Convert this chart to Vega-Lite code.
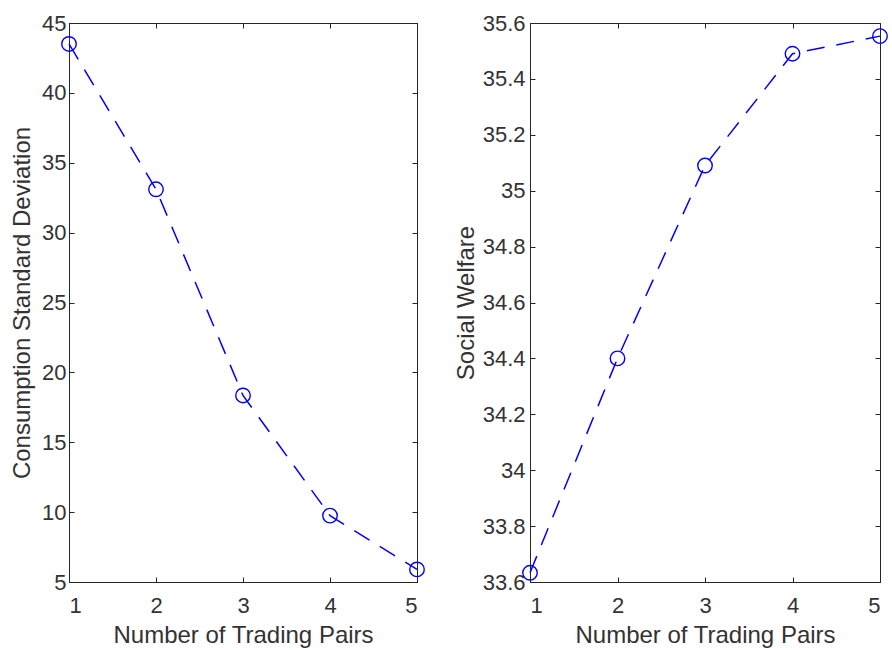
{
  "$schema": "https://vega.github.io/schema/vega-lite/v6.json",
  "background": "white",
  "padding": {"left": 10, "top": 11, "right": 6, "bottom": 3},
  "data": {"values": [
    {"x": 1, "csd": 43.5, "sw": 33.633},
    {"x": 2, "csd": 33.1, "sw": 34.40},
    {"x": 3, "csd": 18.35, "sw": 35.09},
    {"x": 4, "csd": 9.75, "sw": 35.49},
    {"x": 5, "csd": 5.9, "sw": 35.553}
  ]},
  "config": {
    "view": {"stroke": "#262626", "strokeWidth": 1},
    "font": "Liberation Sans",
    "axis": {
      "labelFont": "Liberation Sans", "titleFont": "Liberation Sans",
      "labelColor": "#333333", "titleColor": "#333333",
      "domainColor": "#262626", "tickColor": "#262626",
      "labelFontSize": 22, "titleFontSize": 24, "titleFontWeight": "normal",
      "grid": false, "tickSize": -5, "domainWidth": 1, "tickWidth": 1
    }
  },
  "spacing": 25,
  "hconcat": [
    {
      "width": 348, "height": 559,
      "layer": [
        {
          "mark": {"type": "line", "interpolate": "linear", "color": "#0000ff", "strokeDash": [18, 12], "strokeWidth": 1.5},
          "encoding": {
            "x": {"field": "x", "type": "quantitative", "scale": {"domain": [1, 5], "nice": false, "zero": false},
                  "axis": {"title": "Number of Trading Pairs", "values": [1, 2, 3, 4, 5], "format": "d", "labelPadding": 18, "titlePadding": 7}},
            "y": {"field": "csd", "type": "quantitative", "scale": {"domain": [5, 45], "nice": false, "zero": false},
                  "axis": {"title": "Consumption Standard Deviation", "values": [5, 10, 15, 20, 25, 30, 35, 40, 45], "format": "d", "labelPadding": 8, "titlePadding": 7}}
          }
        },
        {
          "mark": {"type": "point", "shape": "circle", "size": 210, "color": "#0000ff", "strokeWidth": 1.4, "filled": false, "opacity": 1},
          "encoding": {
            "x": {"field": "x", "type": "quantitative", "axis": {"orient": "top", "labels": false, "title": null, "values": [1, 2, 3, 4, 5]}},
            "y": {"field": "csd", "type": "quantitative", "axis": {"orient": "right", "labels": false, "title": null, "values": [5, 10, 15, 20, 25, 30, 35, 40, 45]}}
          }
        }
      ],
      "resolve": {"axis": {"x": "independent", "y": "independent"}}
    },
    {
      "width": 350, "height": 559,
      "layer": [
        {
          "mark": {"type": "line", "interpolate": "linear", "color": "#0000ff", "strokeDash": [18, 12], "strokeWidth": 1.5},
          "encoding": {
            "x": {"field": "x", "type": "quantitative", "scale": {"domain": [1, 5], "nice": false, "zero": false},
                  "axis": {"title": "Number of Trading Pairs", "values": [1, 2, 3, 4, 5], "format": "d", "labelPadding": 18, "titlePadding": 7}},
            "y": {"field": "sw", "type": "quantitative", "scale": {"domain": [33.6, 35.6], "nice": false, "zero": false},
                  "axis": {"title": "Social Welfare", "values": [33.6, 33.8, 34, 34.2, 34.4, 34.6, 34.8, 35, 35.2, 35.4, 35.6], "format": ".1~f", "labelPadding": 10, "titlePadding": 4}}
          }
        },
        {
          "mark": {"type": "point", "shape": "circle", "size": 210, "color": "#0000ff", "strokeWidth": 1.4, "filled": false, "opacity": 1},
          "encoding": {
            "x": {"field": "x", "type": "quantitative", "axis": {"orient": "top", "labels": false, "title": null, "values": [1, 2, 3, 4, 5]}},
            "y": {"field": "sw", "type": "quantitative", "axis": {"orient": "right", "labels": false, "title": null, "values": [33.6, 33.8, 34, 34.2, 34.4, 34.6, 34.8, 35, 35.2, 35.4, 35.6]}}
          }
        }
      ],
      "resolve": {"axis": {"x": "independent", "y": "independent"}}
    }
  ]
}
